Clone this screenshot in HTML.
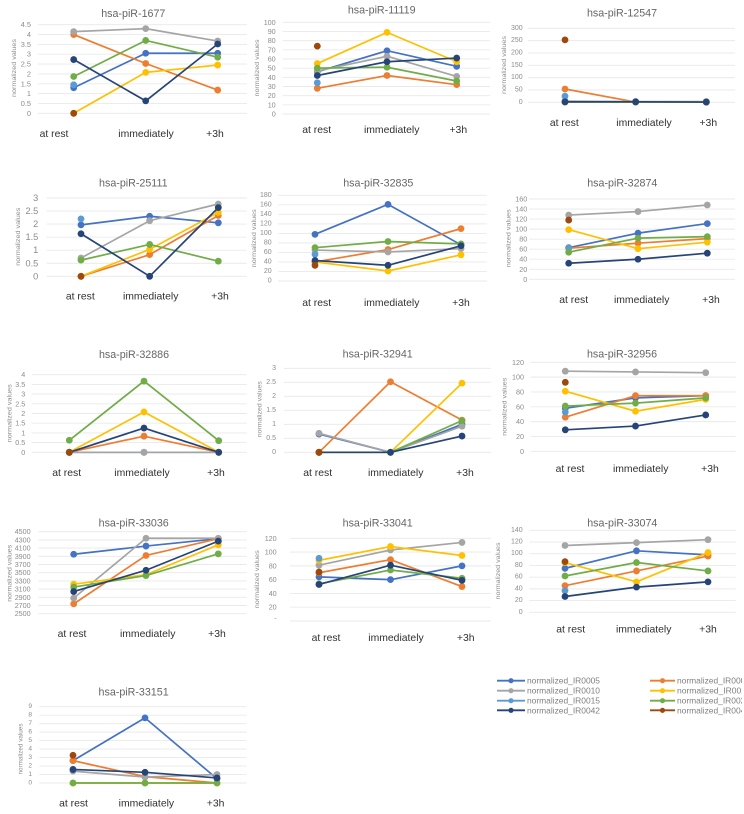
<!DOCTYPE html>
<html lang="en">
<head>
<meta charset="utf-8">
<title>piRNA normalized values</title>
<style>
html,body{margin:0;padding:0;background:#fff;}
#page{width:744px;height:814px;overflow:hidden;position:relative;}
svg{display:block;font-family:"Liberation Sans",sans-serif;filter:blur(0.3px);}
text{dominant-baseline:central;}
</style>
</head>
<body>
<div id="page">
<svg id="chart" width="744" height="814" viewBox="0 0 744 814"></svg>
</div>
<script>
const categories = ['at rest', 'immediately', '+3h'];
const seriesNames = ['normalized_IR0005', 'normalized_IR0006', 'normalized_IR0010', 'normalized_IR0011', 'normalized_IR0015', 'normalized_IR0024', 'normalized_IR0042', 'normalized_IR0047'];
const titles = ['hsa-piR-1677', 'hsa-piR-11119', 'hsa-piR-12547', 'hsa-piR-25111', 'hsa-piR-32835', 'hsa-piR-32874', 'hsa-piR-32886', 'hsa-piR-32941', 'hsa-piR-32956', 'hsa-piR-33036', 'hsa-piR-33041', 'hsa-piR-33074', 'hsa-piR-33151'];

const ticks1677 = [0, 0.5, 1, 1.5, 2, 2.5, 3, 3.5, 4, 4.5];
const ticks11119 = [0, 10, 20, 30, 40, 50, 60, 70, 80, 90, 100];
const ticks12547 = [0, 50, 100, 150, 200, 250, 300];
const ticks25111 = [0, 0.5, 1, 1.5, 2, 2.5, 3];
const ticks32835 = [0, 20, 40, 60, 80, 100, 120, 140, 160, 180];
const ticks32874 = [0, 20, 40, 60, 80, 100, 120, 140, 160];
const ticks32886 = [0, 0.5, 1, 1.5, 2, 2.5, 3, 3.5, 4];
const ticks32941 = [0, 0.5, 1, 1.5, 2, 2.5, 3];
const ticks32956 = [0, 20, 40, 60, 80, 100, 120];
const ticks33036 = [2500, 2700, 2900, 3100, 3300, 3500, 3700, 3900, 4100, 4300, 4500];
const ticks33041 = [0, 20, 40, 60, 80, 100, 120];
const ticks33074 = [0, 20, 40, 60, 80, 100, 120, 140];
const ticks33151 = [0, 1, 2, 3, 4, 5, 6, 7, 8, 9];

// each row: IR0005, IR0006, IR0010, IR0011, IR0015, IR0024, IR0042, IR0047
const values1677 = [[1.3, 3.05, 3.05], [4.0, 2.53, 1.18], [4.15, 4.3, 3.67], [0, 2.08, 2.45], [1.45, null, null], [1.87, 3.7, 2.85], [2.73, 0.63, 3.52], [0, null, null]];
const values11119 = [[46, 69, 52], [28, 42, 32], [47, 63, 41], [55, 89, 57], [34, null, null], [50, 51, 36], [42, 57, 61], [74, null, null]];
const values12547 = [[3, 2, 2], [54, 1, 1], [5, 3, 3], [1, 1, 1], [25, null, null], [1, 1, 1], [2, 2, 1], [253, null, null]];
const values25111 = [[1.97, 2.3, 2.05], [0, 0.83, 2.33], [0.7, 2.13, 2.77], [0, 1.03, 2.45], [2.2, null, null], [0.62, 1.22, 0.58], [1.63, 0, 2.63], [0, null, null]];
const values32835 = [[98, 161, 76], [40, 66, 110], [65, 61, 68], [40, 21, 55], [56, null, null], [70, 83, 78], [43, 33, 74], [33, null, null]];
const values32874 = [[63, 92, 111], [62, 72, 81], [128, 135, 148], [99, 61, 74], [62, null, null], [54, 82, 85], [32, 40, 52], [118, null, null]];
const values32886 = [[0, 0, 0], [0, 0.83, 0], [0, 0, 0], [0, 2.08, 0], [0, null, null], [0.62, 3.67, 0.6], [0, 1.25, 0], [0, null, null]];
const values32941 = [[0.65, 0, 1.0], [0, 2.52, 1.15], [0.68, 0, 0.93], [0, 0, 2.47], [null, null, null], [0, 0, 1.13], [0, 0, 0.58], [0, null, null]];
const values32956 = [[58, 72, 75], [46, 75, 75], [108, 107, 106], [81, 54, 70], [53, null, null], [61, 65, 72], [29, 34, 49], [93, null, null]];
const values33036 = [[3950, 4150, 4330], [2740, 3920, 4330], [2880, 4340, 4340], [3220, 3450, 4180], [null, null, null], [3150, 3430, 3960], [3040, 3560, 4270], [null, null, null]];
const values33041 = [[64, 60, 80], [70, 89, 50], [81, 103, 114], [88, 108, 95], [91, null, null], [54, 74, 62], [53, 81, 59], [71, null, null]];
const values33074 = [[75, 105, 98], [45.5, 70.6, 96], [114, 119, 124], [85, 52, 102], [37, null, null], [62, 85, 70.6], [27, 43, 52], [86.5, null, null]];
const values33151 = [[2.64, 7.68, 0.5], [2.64, 0.75, 0], [1.4, 0.7, 1.0], [0, 0, 0], [1.55, null, null], [0, 0, 0], [1.6, 1.26, 0.6], [3.27, null, null]];

const allTicks = [ticks1677, ticks11119, ticks12547, ticks25111, ticks32835, ticks32874, ticks32886, ticks32941, ticks32956, ticks33036, ticks33041, ticks33074, ticks33151];
const allValues = [values1677, values11119, values12547, values25111, values32835, values32874, values32886, values32941, values32956, values33036, values33041, values33074, values33151];

const seriesColors = ['#4472C4', '#ED7D31', '#A5A5A5', '#FFC000', '#5B9BD5', '#70AD47', '#264478', '#9E480E'];
const layouts = [
  {tx:133.3,ty:14,gl:38,gr:247,top:24.7,bot:113.3,cl:73.7,cr:217.7,lab:[54,146,215],ly:134.7,tr:31,ax:14.3,ay:68,al:58,tf:7.4},
  {tx:381.7,ty:10.7,gl:282.7,gr:490,top:22.3,bot:114,cl:317.3,cr:456.7,lab:[316.7,391.7,458.3],ly:130.7,tr:275.7,ax:257.7,ay:68,al:57,tf:7.2},
  {tx:622,ty:13.7,gl:528,gr:735,top:28.3,bot:102.3,cl:565,cr:706.3,lab:[564.3,644,708.3],ly:123.3,tr:522.7,ax:504.3,ay:65,al:58,tf:7},
  {tx:133.3,ty:183.7,gl:46.7,gr:246.7,top:198,bot:276.3,cl:81,cr:218.3,lab:[80.3,150.7,220],ly:297,tr:38.3,ax:18.3,ay:236.7,al:58,tf:9.2},
  {tx:378.3,ty:183.7,gl:278.3,gr:486.7,top:195.3,bot:281,cl:315,cr:461,lab:[316.7,391.7,461],ly:303.3,tr:271.7,ax:254.3,ay:238.3,al:58,tf:7},
  {tx:622.3,ty:183.7,gl:529.3,gr:735,top:199,bot:279.3,cl:568.7,cr:707.3,lab:[573.7,641.7,711],ly:300.3,tr:527.3,ax:509,ay:238.3,al:58,tf:7.2},
  {tx:134,ty:355,gl:31.7,gr:246.7,top:374.7,bot:452.3,cl:69.3,cr:218.7,lab:[66.7,142,216],ly:473.7,tr:25.3,ax:10,ay:413.3,al:58,tf:7.2},
  {tx:377.7,ty:354.7,gl:284,gr:491,top:368.3,bot:452.3,cl:319,cr:462,lab:[317.7,395.7,465],ly:473.7,tr:276,ax:260,ay:409.3,al:56,tf:7},
  {tx:622,ty:354.7,gl:530.7,gr:735.7,top:362.3,bot:451.3,cl:565.3,cr:705.7,lab:[570,640.7,710],ly:469.3,tr:524,ax:505,ay:406.7,al:58,tf:7.2},
  {tx:133.7,ty:523.3,gl:38.3,gr:246.7,top:531.7,bot:613.7,cl:73.7,cr:218.3,lab:[72,147.7,217],ly:634.7,tr:30.7,ax:10,ay:573.3,al:57,tf:7.2},
  {tx:377.7,ty:523.3,gl:290,gr:491,top:538.3,bot:621,cl:319,cr:462,lab:[326,396,465.7],ly:638.3,tr:276.7,ax:257.3,ay:579.3,al:58,tf:7.2,zero:'-'},
  {tx:622.3,ty:523.3,gl:529.3,gr:735.7,top:530.3,bot:612.3,cl:565,cr:708,lab:[570.7,643.7,708],ly:630,tr:522.7,ax:498.3,ay:571,al:57,tf:7},
  {tx:133.6,ty:692.7,gl:39.3,gr:246.5,top:706.7,bot:783,cl:73,cr:217,lab:[73.5,146.4,215.6],ly:804,tr:32,ax:21,ay:749,al:51,tf:6.6}
];
const legendRows = [680.7, 690.7, 700.7, 710.3];
const legendCols = [{l:497, r:525, t:527}, {l:650, r:675, t:677}];

const NS = 'http://www.w3.org/2000/svg';
const root = document.getElementById('chart');

function make(tag, attrs, parent, content) {
  const el = document.createElementNS(NS, tag);
  for (const k in attrs) el.setAttribute(k, attrs[k]);
  if (content !== undefined) el.textContent = content;
  parent.appendChild(el);
  return el;
}
function xAxis(L, i) {
  return L.cl + (L.cr - L.cl) * i / (categories.length - 1);
}
function yAxis(L, ticks, v) {
  const lo = ticks[0];
  const hi = ticks[ticks.length - 1];
  return L.bot - (v - lo) / (hi - lo) * (L.bot - L.top);
}

titles.forEach(function (title, p) {
  const L = layouts[p];
  const ticks = allTicks[p];
  const vals = allValues[p];
  const id = title.replace('hsa-piR-', '');
  const g = make('g', {}, root);
  
  

  const titleEl = make('text', {x: L.tx, y: L.ty, 'text-anchor': 'middle', 'font-size': 10.7, fill: '#666666'}, g, title);
  
  

  const axisTitle = make('text', {x: 0, y: 0, transform: 'translate(' + L.ax + ' ' + L.ay + ') rotate(-90)', 'text-anchor': 'middle', 'font-size': 6.5, fill: '#8f8f8f', textLength: L.al, lengthAdjust: 'spacingAndGlyphs'}, g, 'normalized values');
  
  

  ticks.forEach(function (t) {
    const yy = yAxis(L, ticks, t);
    const grid = make('line', {x1: L.gl, x2: L.gr, y1: yy, y2: yy, stroke: '#e9e9e9', 'stroke-width': 0.9}, g);
    
    
    const shown = (t === 0 && L.zero) ? L.zero : String(t);
    const tick = make('text', {x: L.tr, y: (t === 0 && L.zero) ? yy - 3 : yy, 'text-anchor': 'end', 'font-size': L.tf, fill: '#8c8c8c'}, g, shown);
    
    
  });

  categories.forEach(function (c, i) {
    const lab = make('text', {x: L.lab[i], y: L.ly, 'text-anchor': 'middle', 'font-size': 10.4, fill: '#303030'}, g, c);
    
    
  });

  vals.forEach(function (row, s) {
    const color = seriesColors[s];
    const sg = make('g', {}, g);
    
    
    for (let i = 0; i < row.length - 1; i++) {
      if (row[i] === null || row[i + 1] === null) continue;
      const seg = make('line', {x1: xAxis(L, i), y1: yAxis(L, ticks, row[i]), x2: xAxis(L, i + 1), y2: yAxis(L, ticks, row[i + 1]), stroke: color, 'stroke-width': 1.7}, sg);
      
      
    }
    row.forEach(function (v, i) {
      if (v === null) return;
      const dot = make('circle', {cx: xAxis(L, i), cy: yAxis(L, ticks, v), r: 3.4, fill: color}, sg);
      
      
    });
  });
});

const defs = make('defs', {}, root);
const clip = make('clipPath', {id: 'legend-clip'}, defs);
make('rect', {x: 480, y: 670, width: 262, height: 50}, clip);

const legend = make('g', {'clip-path': 'url(#legend-clip)'}, root);


seriesNames.forEach(function (name, s) {
  const col = legendCols[s % 2];
  const yy = legendRows[Math.floor(s / 2)];
  const entry = make('g', {}, legend);
  
  
  make('line', {x1: col.l, x2: col.r, y1: yy, y2: yy, stroke: seriesColors[s], 'stroke-width': 1.9}, entry);
  make('circle', {cx: (col.l + col.r) / 2, cy: yy, r: 2.6, fill: seriesColors[s]}, entry);
  make('text', {x: col.t, y: yy, 'font-size': 8.4, fill: '#7f7f7f', textLength: 73, lengthAdjust: 'spacingAndGlyphs'}, entry, name);
});
</script>
</body>
</html>
